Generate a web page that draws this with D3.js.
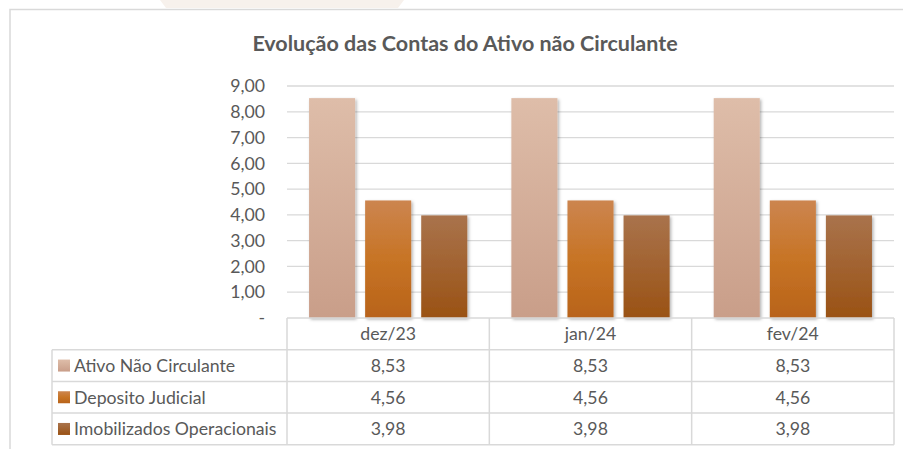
<!DOCTYPE html>
<html>
<head>
<meta charset="utf-8">
<script src="https://cdn.jsdelivr.net/npm/d3@7"></script>
<style>
  html, body { margin: 0; padding: 0; background: #fff; }
  text { font-family: Lato, "Open Sans", sans-serif; fill: #595959; }
</style>
</head>
<body>
<div id="chart"></div>
<script>
var categories = ["dez/23", "jan/24", "fev/24"];
var seriesNames = ["Ativo Não Circulante", "Deposito Judicial", "Imobilizados Operacionais"];
var ativoValues = [8.53, 8.53, 8.53];
var depositoValues = [4.56, 4.56, 4.56];
var imobValues = [3.98, 3.98, 3.98];
var yTicks = [0, 1, 2, 3, 4, 5, 6, 7, 8, 9];
var title = "Evolução das Contas do Ativo não Circulante";

(function() {
	var width = 903;
	var height = 449;
	var fontSize = "17.7px";

	var series = [ativoValues, depositoValues, imobValues];
	var gradStops = [
		["#DEBDA9", "#C99E89"],
		["#CC854F", "#C77425", "#B8631A"],
		["#A9734C", "#9A5214"]
	];

	var locale = d3.formatLocale({ decimal: ",", thousands: ".", grouping: [3], currency: ["R$", ""] });
	var fmt = locale.format(".2f");

	var svg = d3.select("#chart")
				.append("svg")
				.attr("width", width)
				.attr("height", height);

	var defs = svg.append("defs");

	gradStops.forEach(function(stops, i) {
		var g = defs.append("linearGradient")
					.attr("id", "grad" + i)
					.attr("x1", 0).attr("y1", 0)
					.attr("x2", 0).attr("y2", 1);
		stops.forEach(function(c, j) {
			g.append("stop")
			 .attr("offset", (j / (stops.length - 1) * 100) + "%")
			 .attr("stop-color", c);
		});
	});

	var shadow = defs.append("filter")
					 .attr("id", "shadow")
					 .attr("x", "-20%").attr("y", "-10%")
					 .attr("width", "150%").attr("height", "130%");
	shadow.append("feDropShadow")
		  .attr("dx", 1.5).attr("dy", 1.5)
		  .attr("stdDeviation", 1.6)
		  .attr("flood-color", "#000")
		  .attr("flood-opacity", 0.3);

	// page decoration + frame
	svg.append("path")
	   .attr("d", "M160,0 H404 L398,8 H166 Z")
	   .attr("fill", "#F7F1EC");

	svg.append("path")
	   .attr("d", "M10," + height + " V9.5 H" + width)
	   .attr("fill", "none")
	   .attr("stroke", "#D9D9D9")
	   .attr("stroke-width", 1.5);

	// title
	svg.append("text")
	   .attr("x", 465)
	   .attr("y", 51)
	   .attr("text-anchor", "middle")
	   .style("font-size", "21.5px")
	   .style("font-weight", "bold")
	   .text(title);

	var plotLeft = 287, plotRight = 894;
	var yScale = d3.scaleLinear()
				   .domain([0, 9])
				   .range([318, 86]);

	var x0 = d3.scaleBand()
			   .domain(categories)
			   .range([plotLeft, plotRight])
			   .padding(0);

	var x1 = d3.scaleBand()
			   .domain(d3.range(series.length))
			   .range([0, x0.bandwidth()])
			   .paddingInner(10 / 56)
			   .paddingOuter(0.393);

	// gridlines
	svg.append("g")
	   .selectAll("line")
	   .data(yTicks.filter(function(d) { return d > 0; }))
	   .enter()
	   .append("line")
	   .attr("x1", plotLeft)
	   .attr("x2", plotRight)
	   .attr("y1", function(d) { return yScale(d); })
	   .attr("y2", function(d) { return yScale(d); })
	   .attr("stroke", "#D9D9D9")
	   .attr("stroke-width", 1.3);

	// y axis
	var yAxis = d3.axisLeft(yScale)
				  .tickValues(yTicks)
				  .tickSize(0)
				  .tickPadding(0)
				  .tickFormat(function(d) { return d === 0 ? "-" : fmt(d); });

	var yG = svg.append("g")
				.attr("transform", "translate(265,0)")
				.call(yAxis);
	yG.select(".domain").remove();
	yG.selectAll("text")
	  .attr("fill", "#595959")
	  .style("font-family", "Lato, sans-serif")
	  .style("font-size", fontSize);

	// bars
	var groups = svg.append("g")
					.selectAll("g")
					.data(categories)
					.enter()
					.append("g")
					.attr("transform", function(d) { return "translate(" + x0(d) + ",0)"; });

	groups.selectAll("rect")
		  .data(function(d, ci) { return series.map(function(s, si) { return { si: si, v: s[ci] }; }); })
		  .enter()
		  .append("rect")
		  .attr("x", function(d) { return x1(d.si); })
		  .attr("width", x1.bandwidth())
		  .attr("y", function(d) { return yScale(d.v); })
		  .attr("height", function(d) { return yScale(0) - yScale(d.v); })
		  .attr("fill", function(d) { return "url(#grad" + d.si + ")"; })
		  .attr("filter", "url(#shadow)");

	// data table
	var rowH = 31.7;
	var headTop = 318;
	var tableLeft = 52;
	var rowsTop = headTop + rowH;
	var tableBottom = rowsTop + rowH * series.length;
	var lineColor = "#D9D9D9";
	var table = svg.append("g");

	function hline(x1p, x2p, y) {
		table.append("line").attr("x1", x1p).attr("x2", x2p).attr("y1", y).attr("y2", y)
			 .attr("stroke", lineColor).attr("stroke-width", 1.5);
	}
	function vline(x, y1p, y2p) {
		table.append("line").attr("x1", x).attr("x2", x).attr("y1", y1p).attr("y2", y2p)
			 .attr("stroke", lineColor).attr("stroke-width", 1.5);
	}

	hline(plotLeft, plotRight, headTop);
	for (var r = 0; r <= series.length; r++) {
		hline(tableLeft, plotRight, rowsTop + r * rowH);
	}
	vline(tableLeft, rowsTop, tableBottom);
	categories.forEach(function(c) { vline(x0(c), headTop, tableBottom); });
	vline(plotRight, headTop, tableBottom);

	table.selectAll(".cat")
		 .data(categories)
		 .enter()
		 .append("text")
		 .attr("x", function(d) { return x0(d) + x0.bandwidth() / 2; })
		 .attr("y", headTop + rowH / 2 + 6.3)
		 .attr("text-anchor", "middle")
		 .style("font-size", fontSize)
		 .text(function(d) { return d; });

	series.forEach(function(s, si) {
		var cy = rowsTop + si * rowH + rowH / 2;
		table.append("rect")
			 .attr("x", 58)
			 .attr("y", cy - 6)
			 .attr("width", 12)
			 .attr("height", 12)
			 .attr("fill", "url(#grad" + si + ")");
		table.append("text")
			 .attr("x", 74)
			 .attr("y", cy + 6.3)
			 .style("font-size", fontSize)
			 .text(seriesNames[si]);
		table.selectAll(".v" + si)
			 .data(s)
			 .enter()
			 .append("text")
			 .attr("x", function(d, ci) { return x0(categories[ci]) + x0.bandwidth() / 2; })
			 .attr("y", cy + 6.3)
			 .attr("text-anchor", "middle")
			 .style("font-size", fontSize)
			 .text(function(d) { return fmt(d); });
	});
}());
</script>
</body>
</html>
